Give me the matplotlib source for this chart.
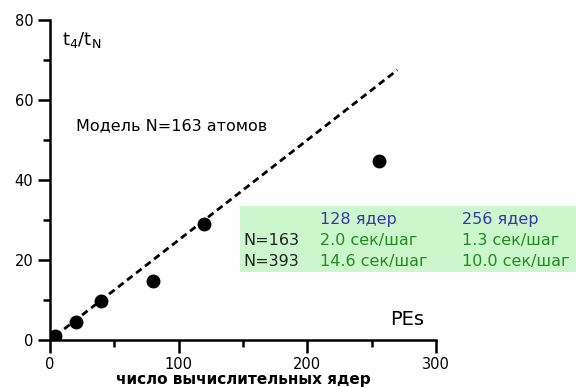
import numpy as np
import matplotlib.pyplot as plt
from matplotlib.patches import Rectangle

plt.rcParams['font.family'] = ['DejaVu Sans']

# measured points
cores = [4, 20, 40, 80, 120, 256]
speedup = [1.0, 4.5, 9.8, 14.8, 29.0, 44.7]

# ideal scaling line
ideal_x = [4, 270]
ideal_y = [1.0, 67.5]

# table in the green box
col_heads = ["128 ядер", "256 ядер"]
row_heads = ["N=163", "N=393"]
times = [["2.0 сек/шаг", "1.3 сек/шаг"],
         ["14.6 сек/шаг", "10.0 сек/шаг"]]

fig = plt.figure(figsize=(5.76, 3.87), dpi=100)
ax = fig.add_axes([0.0868, 0.1214, 0.6701, 0.8269])

ax.plot(ideal_x, ideal_y, ls=(0, (2.5, 1.6)), color='black', lw=2.0, zorder=2)
ax.plot(cores, speedup, 'o', color='black', ms=9, zorder=3)

ax.set_xlim(0, 300)
ax.set_ylim(0, 80)
ax.set_xticks([0, 100, 200, 300])
ax.set_xticks([50, 150, 250], minor=True)
ax.set_yticks([0, 20, 40, 60, 80])
ax.set_yticks([10, 30, 50, 70], minor=True)

for s in ['top', 'right']:
    ax.spines[s].set_visible(False)
for s in ['left', 'bottom']:
    ax.spines[s].set_linewidth(1.8)

ax.tick_params(which='major', length=9, width=1.8, labelsize=10.5, pad=3)
ax.tick_params(which='minor', length=5, width=1.8)

ax.set_xlabel("число вычислительных ядер", fontsize=11, fontweight='bold', labelpad=0)

ax.text(9, 75, r"$\mathregular{t_4/t_N}$", fontsize=13, va='center', ha='left')
ax.text(20, 53.5, "Модель N=163 атомов", fontsize=11.5, va='center', ha='left')
ax.text(264, 5.2, "PEs", fontsize=14, va='center', ha='left')

# green box with timings
ax.add_patch(Rectangle((148, 17), 270, 16.5, facecolor='#ccf7cc', edgecolor='none',
                       clip_on=False, zorder=1))
col_x = [210, 320]
row_y = [25, 19.75]
for cx, head in zip(col_x, col_heads):
    ax.text(cx, 30.25, head, fontsize=11.5, color='#3838a8', va='center', ha='left',
            clip_on=False)
for ry, rh, vals in zip(row_y, row_heads, times):
    ax.text(150, ry, rh, fontsize=11.5, color='#222222', va='center', ha='left',
            clip_on=False)
    for cx, v in zip(col_x, vals):
        ax.text(cx, ry, v, fontsize=11.5, color='#1e8c1e', va='center', ha='left',
                clip_on=False)

fig.savefig("out.png", dpi=100)
